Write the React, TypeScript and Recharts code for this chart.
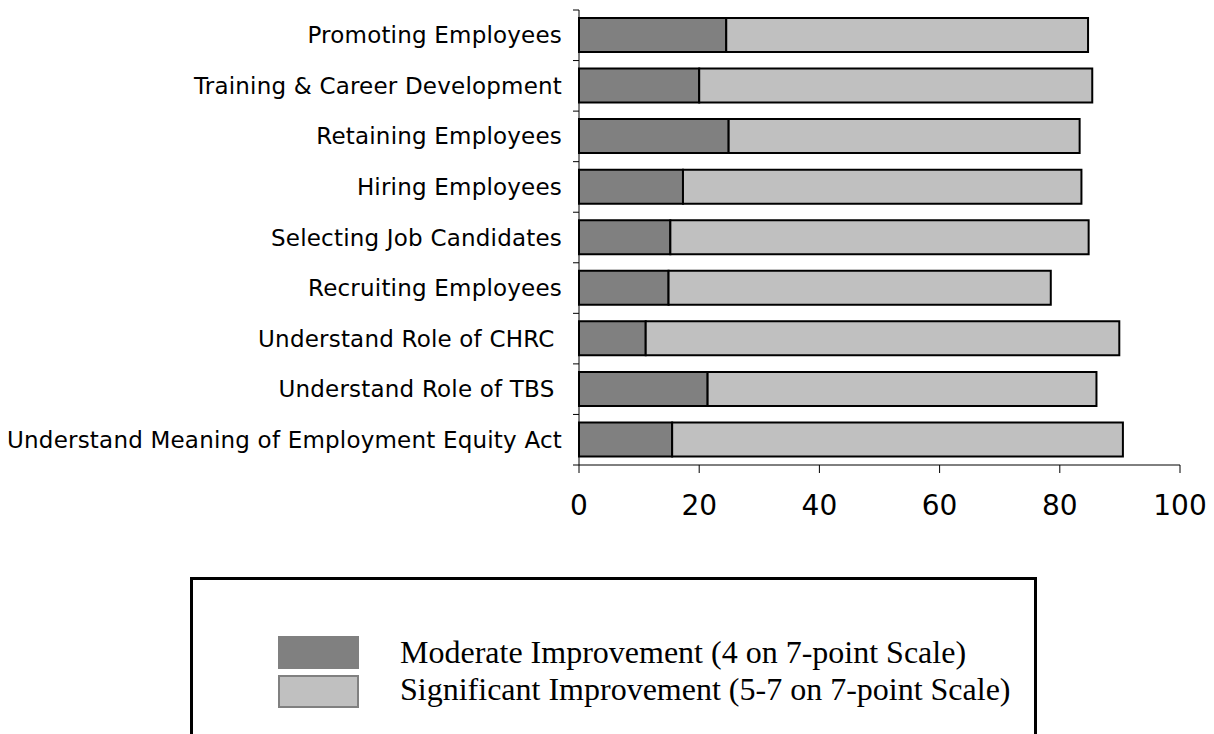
import React from "react";
import { BarChart, Bar, XAxis, YAxis, Legend } from "recharts";

const categories = [
  "Promoting Employees",
  "Training & Career Development",
  "Retaining Employees",
  "Hiring Employees",
  "Selecting Job Candidates",
  "Recruiting Employees",
  "Understand Role of CHRC ",
  "Understand Role of TBS ",
  "Understand Meaning of Employment Equity Act",
];
const moderate = [24.5, 20.0, 24.9, 17.3, 15.2, 14.9, 11.1, 21.4, 15.5];
const significant = [60.2, 65.4, 58.4, 66.3, 69.6, 63.6, 78.8, 64.7, 75.0];
const xTicks = [0, 20, 40, 60, 80, 100];
const seriesNames = [
  "Moderate Improvement (4 on 7-point Scale)",
  "Significant Improvement (5-7 on 7-point Scale)",
];

const data = categories.map((name, i) => ({
  name,
  moderate: moderate[i],
  significant: significant[i],
}));

const DARK = "#808080";
const LIGHT = "#c0c0c0";
const LABEL_GAP = 17;

const YTick = (props: any) => {
  const { x, y, payload, height, visibleTicksCount, index } = props;
  const band = height / visibleTicksCount;
  const axisX = x + LABEL_GAP;
  return (
    <g>
      <line x1={axisX - 6} x2={axisX} y1={y - band / 2} y2={y - band / 2} stroke="#000" strokeWidth={1} />
      {index === visibleTicksCount - 1 && (
        <line x1={axisX - 6} x2={axisX} y1={y + band / 2} y2={y + band / 2} stroke="#000" strokeWidth={1} />
      )}
      <text
        x={x}
        y={y}
        dy="0.35em"
        textAnchor="end"
        fill="#000"
        style={{ fontFamily: "'DejaVu Sans', Verdana, sans-serif", fontSize: 23, letterSpacing: 0.2, whiteSpace: "pre" }}
      >
        {payload.value}
      </text>
    </g>
  );
};

const LegendBox = (props: any) => {
  const payload = props.payload || [];
  return (
    <div
      style={{
        position: "relative",
        width: 847,
        height: 170,
        boxSizing: "border-box",
        border: "3px solid #000",
        background: "#fff",
      }}
    >
      {payload.map((p: any, i: number) => (
        <React.Fragment key={i}>
          <div
            style={{
              position: "absolute",
              left: 85,
              top: 56 + i * 39,
              width: 81,
              height: 33,
              boxSizing: "border-box",
              background: p.color,
              border: `2px solid ${DARK}`,
            }}
          />
          <div
            style={{
              position: "absolute",
              left: 207,
              top: 54 + i * 37,
              fontFamily: "'Liberation Serif', 'Times New Roman', serif",
              fontSize: 32,
              lineHeight: "37px",
              color: "#000",
              whiteSpace: "nowrap",
            }}
          >
            {p.value}
          </div>
        </React.Fragment>
      ))}
    </div>
  );
};

export default function App() {
  return (
    <div style={{ position: "absolute", left: 0, top: 0, width: 1214, height: 734, overflow: "hidden", background: "#fff" }}>
      <BarChart
        layout="vertical"
        width={1214}
        height={734}
        data={data}
        margin={{ top: 10, right: 34, left: 0, bottom: 0 }}
        barSize={34}
      >
        <XAxis
          type="number"
          domain={[0, 100]}
          ticks={xTicks}
          interval={0}
          height={269}
          axisLine={{ stroke: "#000", strokeWidth: 1 }}
          tickLine={{ stroke: "#000", strokeWidth: 1 }}
          tickSize={8}
          tickMargin={22}
          tick={{ fill: "#000", fontSize: 28, fontFamily: "'DejaVu Sans', Verdana, sans-serif" }}
        />
        <YAxis
          type="category"
          dataKey="name"
          width={579}
          interval={0}
          axisLine={{ stroke: "#000", strokeWidth: 1 }}
          tickLine={false}
          tickSize={0}
          tickMargin={LABEL_GAP}
          tick={<YTick />}
        />
        <Legend
          layout="horizontal"
          verticalAlign="middle"
          align="center"
          content={<LegendBox />}
          wrapperStyle={{ position: "absolute", left: 190, top: 577, right: "auto", bottom: "auto", width: 847, height: 170, margin: 0 }}
        />
        <Bar
          dataKey="moderate"
          name={seriesNames[0]}
          stackId="a"
          fill={DARK}
          stroke="#000"
          strokeWidth={2}
          isAnimationActive={false}
        />
        <Bar
          dataKey="significant"
          name={seriesNames[1]}
          stackId="a"
          fill={LIGHT}
          stroke="#000"
          strokeWidth={2}
          isAnimationActive={false}
        />
      </BarChart>
    </div>
  );
}
